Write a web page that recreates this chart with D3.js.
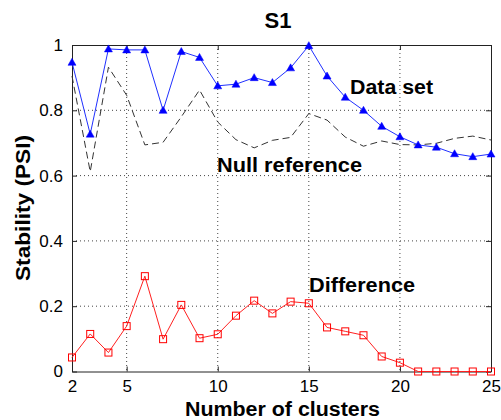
<!DOCTYPE html>
<html>
<head>
<meta charset="utf-8">
<script src="https://cdn.jsdelivr.net/npm/d3@7"></script>
<style>
  body { margin: 0; background: #fff; }
  text { font-family: "Liberation Sans", Arial, sans-serif; }
</style>
</head>
<body>
<script>
// data
var clusters = [2,3,4,5,6,7,8,9,10,11,12,13,14,15,16,17,18,19,20,21,22,23,24,25];
var dataSet = [0.947,0.727,0.988,0.985,0.985,0.800,0.980,0.962,0.875,0.880,0.900,0.885,
               0.930,0.998,0.905,0.840,0.800,0.751,0.719,0.694,0.687,0.667,0.658,0.666];
var nullRef = [0.905,0.612,0.932,0.846,0.694,0.702,0.780,0.862,0.764,0.710,0.685,0.708,
               0.717,0.790,0.770,0.718,0.690,0.706,0.695,0.694,0.699,0.714,0.721,0.709];
var difference = [0.043,0.115,0.058,0.139,0.292,0.099,0.204,0.102,0.114,0.171,0.217,0.178,
                  0.214,0.209,0.135,0.123,0.111,0.046,0.027,0,0,0,0,0];
var xTicks = [2,5,10,15,20,25];
var yTicks = [0,0.2,0.4,0.6,0.8,1];

var width = 501, height = 420;
var margin = { top: 45, right: 10, bottom: 48.5, left: 72 };
var w = width - margin.left - margin.right,
    h = height - margin.top - margin.bottom;

var svg = d3.select("body").append("svg")
    .attr("width", width)
    .attr("height", height);

var g = svg.append("g")
    .attr("transform", "translate(" + margin.left + "," + margin.top + ")");

var x = d3.scaleLinear().domain([2, 25]).range([0, w]);
var y = d3.scaleLinear().domain([0, 1]).range([h, 0]);

// dotted grid
g.append("g").selectAll("line")
    .data(xTicks.slice(1, -1))
    .enter().append("line")
    .attr("x1", function(d) { return x(d); })
    .attr("x2", function(d) { return x(d); })
    .attr("y1", 0).attr("y2", h)
    .attr("stroke", "#444").attr("stroke-dasharray", "1,3");

g.append("g").selectAll("line")
    .data(yTicks.slice(1, -1))
    .enter().append("line")
    .attr("y1", function(d) { return y(d); })
    .attr("y2", function(d) { return y(d); })
    .attr("x1", 0).attr("x2", w)
    .attr("stroke", "#444").attr("stroke-dasharray", "1,3");

// axes, ticks pointing inward
var xAxis = g.append("g")
    .attr("transform", "translate(0," + h + ")")
    .call(d3.axisBottom(x).tickValues(xTicks).tickSizeInner(-5).tickSizeOuter(0).tickPadding(8));
var xTop = g.append("g")
    .call(d3.axisTop(x).tickValues(xTicks).tickSizeInner(-5).tickSizeOuter(0).tickFormat(""));
var yAxis = g.append("g")
    .call(d3.axisLeft(y).tickValues(yTicks).tickSizeInner(-5).tickSizeOuter(0).tickPadding(9)
      .tickFormat(function(d) { return d3.format("")(+d.toFixed(1)); }));
var yRight = g.append("g")
    .attr("transform", "translate(" + w + ",0)")
    .call(d3.axisRight(y).tickValues(yTicks).tickSizeInner(-5).tickSizeOuter(0).tickFormat(""));

[xAxis, xTop, yAxis, yRight].forEach(function(a) {
  a.select(".domain").attr("stroke", "#222");
  a.selectAll(".tick line").attr("stroke", "#222");
  a.selectAll("text")
    .style("font-family", "'Liberation Sans', Arial, sans-serif")
    .style("font-size", "17px")
    .attr("fill", "#000");
});
xAxis.selectAll("text").attr("dy", "0.75em");

var line = d3.line()
    .x(function(d, i) { return x(clusters[i]); })
    .y(function(d) { return y(d); });

// null reference (dashed)
g.append("path")
    .datum(nullRef)
    .attr("d", line)
    .attr("fill", "none")
    .attr("stroke", "#333")
    .attr("stroke-width", 1)
    .attr("stroke-dasharray", "7,4");

// data set (blue triangles)
g.append("path")
    .datum(dataSet)
    .attr("d", line)
    .attr("fill", "none")
    .attr("stroke", "#2030ff")
    .attr("stroke-width", 1);

g.append("g").selectAll("path")
    .data(dataSet)
    .enter().append("path")
    .attr("d", "M0,-4L4,3L-4,3Z")
    .attr("transform", function(d, i) { return "translate(" + x(clusters[i]) + "," + y(d) + ")"; })
    .attr("fill", "#0000ff")
    .attr("stroke", "#0000ff")
    .attr("stroke-width", 0.5);

// difference (red squares)
g.append("path")
    .datum(difference)
    .attr("d", line)
    .attr("fill", "none")
    .attr("stroke", "#ff2020")
    .attr("stroke-width", 1);

g.append("g").selectAll("rect")
    .data(difference)
    .enter().append("rect")
    .attr("x", function(d, i) { return x(clusters[i]) - 3.5; })
    .attr("y", function(d) { return y(d) - 3.5; })
    .attr("width", 7).attr("height", 7)
    .attr("fill", "none")
    .attr("stroke", "#ff0000")
    .attr("stroke-width", 1);

// labels
svg.append("text")
    .attr("x", 278).attr("y", 28)
    .attr("text-anchor", "middle")
    .style("font-size", "22px").style("font-weight", "bold")
    .text("S1");

svg.append("text")
    .attr("x", 282.5).attr("y", 415.5)
    .attr("text-anchor", "middle")
    .style("font-size", "20px").style("font-weight", "bold")
    .attr("textLength", 195).attr("lengthAdjust", "spacingAndGlyphs")
    .text("Number of clusters");

svg.append("text")
    .attr("transform", "translate(30,208) rotate(-90)")
    .attr("text-anchor", "middle")
    .style("font-size", "20px").style("font-weight", "bold")
    .attr("textLength", 146).attr("lengthAdjust", "spacingAndGlyphs")
    .text("Stability (PSI)");

var notes = [
  { t: "Data set", x: 350, y: 94, len: 83 },
  { t: "Null reference", x: 217, y: 172, len: 145 },
  { t: "Difference", x: 309, y: 292, len: 106 }
];
notes.forEach(function(n) {
  svg.append("text")
    .attr("x", n.x).attr("y", n.y)
    .style("font-size", "20px").style("font-weight", "bold")
    .attr("textLength", n.len).attr("lengthAdjust", "spacingAndGlyphs")
    .text(n.t);
});
</script>
</body>
</html>
